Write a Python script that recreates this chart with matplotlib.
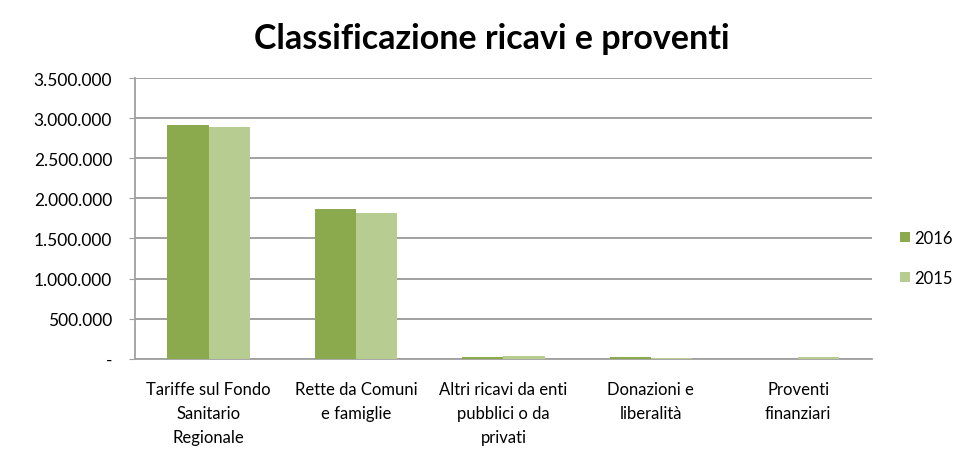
import numpy as np
import matplotlib.pyplot as plt
from matplotlib.ticker import FuncFormatter

categorie = ['Tariffe sul Fondo\nSanitario\nRegionale', 'Rette da Comuni\ne famiglie',
             'Altri ricavi da enti\npubblici o da\nprivati', 'Donazioni e\nliberalità',
             'Proventi\nfinanziari']
ricavi_2016 = [2910000, 1865000, 25000, 25000, 3000]
ricavi_2015 = [2885000, 1815000, 30000, 5000, 20000]

col_2016 = '#8BAA4E'
col_2015 = '#B7CC91'

plt.rcParams['font.family'] = ['Lato', 'DejaVu Sans']

fig = plt.figure(figsize=(9.58, 4.52), dpi=100)
ax = fig.add_axes([0.141, 0.204, 0.769, 0.621])

x = np.arange(len(categorie))
w = 0.28
ax.bar(x - w/2, ricavi_2016, w, color=col_2016, label='2016', zorder=3)
ax.bar(x + w/2, ricavi_2015, w, color=col_2015, label='2015', zorder=3)

ax.set_xlim(-0.5, len(categorie) - 0.5)
ax.set_ylim(0, 3500000)
ax.set_yticks(np.arange(0, 3500001, 500000))

def fmt(v, pos):
    if v == 0:
        return '-'
    return '{:,.0f}'.format(v).replace(',', '.')

ax.yaxis.set_major_formatter(FuncFormatter(fmt))
ax.set_xticks(x)
ax.set_xticklabels(categorie, fontsize=12, linespacing=1.6)
ax.tick_params(axis='x', length=0, pad=16)
ax.tick_params(axis='y', length=4, color='#A0A0A0', labelsize=12.5, pad=12.5)

ax.grid(axis='y', color='#9A9A9A', linewidth=1.3, zorder=0)
for s in ['top', 'right']:
    ax.spines[s].set_visible(False)
ax.spines['left'].set_color('#A0A0A0')
ax.spines['bottom'].set_color('#A0A0A0')
ax.spines['left'].set_linewidth(1.3)
ax.spines['bottom'].set_linewidth(1.3)

fig.text(0.513, 0.913, 'Classificazione ricavi e proventi', ha='center', va='center',
         fontsize=24.5, fontweight='bold')

fig.legend(loc='center left', bbox_to_anchor=(0.924, 0.427), frameon=False,
           fontsize=12, handlelength=0.6, handleheight=0.6, handletextpad=0.25,
           labelspacing=1.45)

fig.savefig('out.png', dpi=100)
